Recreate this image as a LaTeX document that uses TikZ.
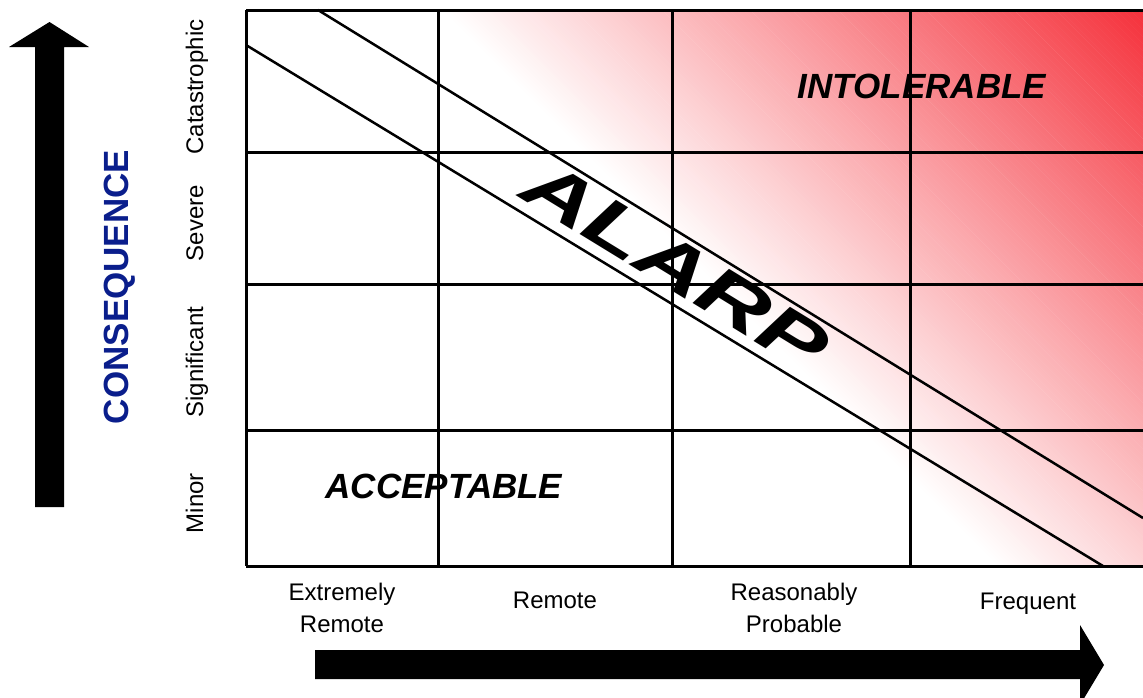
\documentclass[tikz,border=0pt]{standalone}
\usepackage{fontspec}
\setmainfont{Liberation Sans}
\definecolor{rred}{RGB}{245,50,60}
\definecolor{cblue}{RGB}{10,30,140}
\begin{document}
\begin{tikzpicture}[x=1pt,y=-1pt,
  gridline/.style={line width=3pt},
  diag/.style={line width=2.5pt},
  lab/.style={font=\fontsize{24}{24}\selectfont, inner sep=0pt},
  zone/.style={font=\fontsize{35}{35}\selectfont\bfseries\itshape, inner sep=0pt},
  alarpstyle/.style={font=\fontsize{70}{70}\selectfont\bfseries\itshape, inner sep=0pt},
  bigarrow/.style={fill=black}]
\useasboundingbox (0,0) rectangle (1143,697);
% gradient
\begin{scope}
\clip (246,10) rectangle (1143,566);
\foreach \i in {0,...,199} {
  \pgfmathsetmacro\c{430+\i*3.52}
  \pgfmathsetmacro\p{\i/199*100}
  \fill[rred!\p!white] (\c,0) -- (\c+600,600) -- (\c+604,600) -- (\c+4,0) -- cycle;
}
\end{scope}
% grid
\foreach \yy in {10,152,284,430,566} \draw[gridline] (246,\yy) -- (1143,\yy);
\foreach \xx in {246,438,672,910} \draw[gridline] (\xx,10) -- (\xx,566);
% diagonals
\coordinate (d1a) at (246,45);
\coordinate (d1b) at (1103,566);
\coordinate (d2a) at (318,10);
\coordinate (d2b) at (1143,518);
\draw[diag] (d1a) -- (d1b);
\draw[diag] (d2a) -- (d2b);
% zone labels
\node[zone, anchor=base] (intol) at (922,98) {INTOLERABLE};
\node[zone, anchor=base] (accept) at (444,498) {ACCEPTABLE};
\node[alarpstyle, rotate=-31.5, xscale=1.42] (alarp) at (676,265) {ALARP};
% y labels
\node[lab, rotate=90, anchor=base] (cat) at (203,87) {Catastrophic};
\node[lab, rotate=90, anchor=base] (sev) at (203,223) {Severe};
\node[lab, rotate=90, anchor=base] (sig) at (203,362) {Significant};
\node[lab, rotate=90, anchor=base] (min) at (203,503) {Minor};
\node[font=\fontsize{35}{35}\selectfont\bfseries, text=cblue, rotate=90, anchor=base, inner sep=0pt] (conseq) at (128,287) {CONSEQUENCE};
% x labels
\node[lab, anchor=base] (er1) at (342,600) {Extremely};
\node[lab, anchor=base] (er2) at (342,632) {Remote};
\node[lab, anchor=base] (rem) at (555,608) {Remote};
\node[lab, anchor=base] (rp1) at (794,600) {Reasonably};
\node[lab, anchor=base] (rp2) at (794,632) {Probable};
\node[lab, anchor=base] (freq) at (1028,609) {Frequent};
% arrows
\fill[bigarrow] (35,507) -- (35,47) -- (9,47) -- (49.5,22) -- (89,47) -- (64,47) -- (64,507) -- cycle;
\fill[bigarrow] (315,650) -- (1080,650) -- (1080,625) -- (1104,665) -- (1080,705) -- (1080,679) -- (315,679) -- cycle;
\end{tikzpicture}
\end{document}
